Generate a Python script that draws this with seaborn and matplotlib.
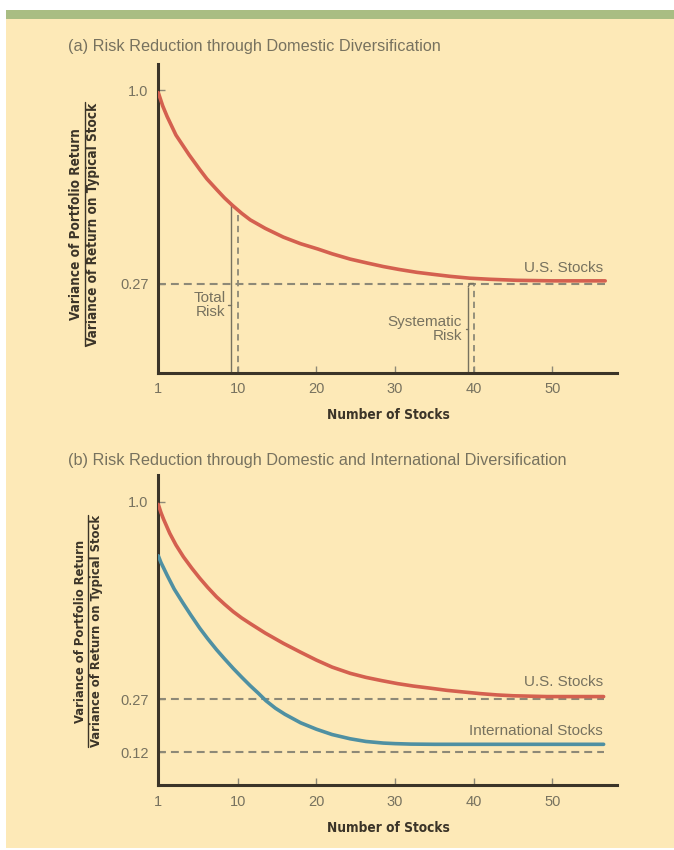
import numpy as np
import pandas as pd
import matplotlib
matplotlib.use('Agg')
import matplotlib.pyplot as plt
import seaborn as sns
from matplotlib.lines import Line2D
from matplotlib.patches import Rectangle

# --- data ---
# (a) domestic diversification
us_n_a = [1, 1.25, 1.5, 2, 2.5, 3, 3.8, 4.5, 5.7, 6.5, 7.6, 8.5, 9.4, 10.5, 11.6, 13.5,
          15.8, 18, 20.2, 22, 24.3, 26.5, 28.5, 30.5, 32.8, 35, 37, 39.5, 42, 45.5, 50, 56.7]
us_risk_a = [0.99, 0.965, 0.94, 0.90, 0.865, 0.83, 0.79, 0.755, 0.70, 0.665, 0.625, 0.593,
             0.565, 0.535, 0.51, 0.478, 0.445, 0.42, 0.40, 0.382, 0.362, 0.347, 0.334, 0.323,
             0.312, 0.304, 0.297, 0.29, 0.286, 0.282, 0.28, 0.28]

# (b) domestic and international diversification
us_n_b = [1, 1.3, 1.6, 2.3, 3, 3.85, 4.8, 5.7, 6.6, 7.6, 8.5, 9.5, 10.5, 11.6, 13.5, 15.8,
          18, 20, 22, 24.3, 26.3, 28.3, 30.3, 32.3, 34.5, 36.6, 38.7, 40.8, 43, 45, 49.3, 56.5]
us_risk_b = [0.99, 0.96, 0.935, 0.883, 0.84, 0.796, 0.754, 0.717, 0.683, 0.648, 0.621, 0.593,
             0.570, 0.549, 0.514, 0.476, 0.443, 0.414, 0.388, 0.365, 0.35, 0.338, 0.327, 0.318,
             0.31, 0.302, 0.296, 0.29, 0.285, 0.282, 0.279, 0.279]
intl_n_b = [1, 1.3, 1.6, 2, 2.8, 3.8, 4.7, 5.7, 6.6, 7.6, 8.5, 9.5, 10.5, 11.6, 12.6, 13.6,
            14.8, 16, 18, 20, 22, 24.3, 26.3, 28.5, 30, 32, 35, 40, 56.5]
intl_risk_b = [0.80, 0.775, 0.755, 0.728, 0.677, 0.625, 0.58, 0.532, 0.493, 0.4525, 0.419,
               0.383, 0.351, 0.319, 0.292, 0.265, 0.244, 0.227, 0.203, 0.185, 0.170, 0.158,
               0.1505, 0.146, 0.1444, 0.1431, 0.1425, 0.1425, 0.1425]

us_systematic = 0.27
intl_systematic = 0.12
x_ticks = [1, 10, 20, 30, 40, 50]
x_ticklabels = ['1', '10', '20', '30', '40', '50']

# --- styling ---
W, H = 674, 850
BG = '#fde9b7'
RED = '#d4604f'
BLUE = '#4f90a2'
AXIS = '#3b3428'
GREY = '#77725f'
DASH = '#8d8977'
sns.set_theme(style='ticks')
plt.rcParams['font.family'] = ['Liberation Sans', 'DejaVu Sans']
BOLD = dict(family='DejaVu Sans', fontweight='bold', fontstretch='condensed', color=AXIS)


def piecewise(data_knots, pix_knots):
    # piecewise-linear axis, the book figure is drawn schematically
    d = np.asarray(data_knots, float)
    p = np.asarray(pix_knots, float)

    def make(a, b):
        def f(v):
            v = np.asarray(v, float)
            lo = b[0] + (v - a[0]) * (b[1] - b[0]) / (a[1] - a[0])
            hi = b[-1] + (v - a[-1]) * (b[-1] - b[-2]) / (a[-1] - a[-2])
            return np.where(v < a[0], lo, np.where(v > a[-1], hi, np.interp(v, a, b)))
        return f
    return make(d, p), make(p, d)


def px_rect(left, top, right, bottom):
    return [left / W, 1 - bottom / H, (right - left) / W, (bottom - top) / H]


def fit(t, target, vertical=False):
    # scale font so the text spans the same pixels as in the book
    bb = t.get_window_extent(fig.canvas.get_renderer())
    size = bb.height if vertical else bb.width
    t.set_fontsize(t.get_fontsize() * target / size)
    return t.get_fontsize()


fig = plt.figure(figsize=(W / 100, H / 100), dpi=100, facecolor='white')
fig.add_artist(Rectangle((6 / W, 2 / H), 1, 830 / H, transform=fig.transFigure,
                         facecolor=BG, edgecolor='none', zorder=-10))
fig.add_artist(Rectangle((6 / W, 1 - 18.5 / H), 1, 8.5 / H, transform=fig.transFigure,
                         facecolor='#a9bd83', edgecolor='none', zorder=-10))

x_fwd, x_inv = piecewise([1, 10, 50], [158.3, 237.7, 552.5])

ax_a = fig.add_axes(px_rect(158.3, 63.5, 617, 372.7))
ax_b = fig.add_axes(px_rect(158.3, 474.7, 617, 785))
ya = piecewise([0, 0.27, 1.0], [-372.7, -283.5, -90])
yb = piecewise([0, 0.12, 0.27, 1.0], [-785, -752.3, -699, -501.7])

for ax, yfun, yticks in [(ax_a, ya, [0.27, 1.0]), (ax_b, yb, [0.12, 0.27, 1.0])]:
    ax.set_facecolor('none')
    ax.set_xscale('function', functions=(x_fwd, x_inv))
    ax.set_yscale('function', functions=yfun)
    ax.set_xlim(1, 58.2)
    ax.set_ylim(0, 1.1)
    sns.despine(ax=ax)
    for s in ['left', 'bottom']:
        ax.spines[s].set_color(AXIS)
        ax.spines[s].set_linewidth(2.2)
    ax.set_xticks(x_ticks)
    ax.set_xticklabels(x_ticklabels)
    ax.set_yticks(yticks)
    ax.set_yticklabels([('%.2f' % t) if t < 1 else '1.0' for t in yticks])
    ax.tick_params(axis='both', direction='in', length=5, width=1, color=DASH,
                   labelcolor=GREY, labelsize=10.5, pad=7)
    ax.set_xlabel('')
    ax.set_ylabel('')
    ax.minorticks_off()

dash = (0, (3.8, 2.4))

# panel (a)
ax_a.hlines(us_systematic, 1, us_n_a[-1], colors=DASH, lw=1.5, linestyles=[dash], zorder=1)
sns.lineplot(x=us_n_a, y=us_risk_a, ax=ax_a, color=RED, lw=2.6, estimator=None, zorder=3)

# total risk bracket at 10 stocks
top10 = np.interp(10, us_n_a, us_risk_a)
top_b = np.interp(9.2, us_n_a, us_risk_a)
ax_a.vlines(10, 0, top10, colors=DASH, lw=1.3, linestyles=[(0, (3.5, 2.5))], zorder=2)
ax_a.vlines(9.2, 0, top_b, colors=GREY, lw=1, zorder=2)
ax_a.plot([8.95, 9.2], [0.205, 0.205], color=GREY, lw=1)
ax_a.text(8.6, 0.205, 'Total\nRisk', ha='right', va='center', fontsize=11,
          color=GREY, linespacing=1.0)

# systematic risk bracket at 40 stocks
ax_a.vlines(40, 0, us_systematic, colors=DASH, lw=1.3, linestyles=[(0, (3.5, 2.5))], zorder=2)
ax_a.vlines(39.3, 0, us_systematic - 0.01, colors=GREY, lw=1, zorder=2)
ax_a.plot([39.3, 39.5, 40], [us_systematic - 0.01, us_systematic, us_systematic],
          color=GREY, lw=1)
ax_a.plot([39.05, 39.3], [0.131, 0.131], color=GREY, lw=1)
ax_a.text(38.5, 0.131, 'Systematic\nRisk', ha='right', va='center', fontsize=11,
          color=GREY, linespacing=1.0)
ax_a.text(56.4, 0.328, 'U.S. Stocks', ha='right', va='center', fontsize=11, color=GREY)

# panel (b)
ax_b.hlines([us_systematic, intl_systematic], 1, us_n_b[-1], colors=DASH, lw=1.5,
            linestyles=[dash], zorder=1)
sns.lineplot(x=us_n_b, y=us_risk_b, ax=ax_b, color=RED, lw=2.6, estimator=None, zorder=3)
sns.lineplot(x=intl_n_b, y=intl_risk_b, ax=ax_b, color=BLUE, lw=2.6, estimator=None, zorder=3)
ax_b.text(56.4, 0.334, 'U.S. Stocks', ha='right', va='center', fontsize=11, color=GREY)
ax_b.text(56.4, 0.181, 'International Stocks', ha='right', va='center', fontsize=11,
          color=GREY)

# titles and axis labels in figure pixels
t_a = fig.text(68 / W, 1 - 47 / H, '(a) Risk Reduction through Domestic Diversification',
               fontsize=10, color=GREY, va='center')
t_b = fig.text(68 / W, 1 - 461 / H,
               '(b) Risk Reduction through Domestic and International Diversification',
               fontsize=10, color=GREY, va='center')
t_b.set_fontsize(fit(t_a, 372))

xl = [fig.text(388 / W, 1 - yc / H, 'Number of Stocks', fontsize=9, ha='center',
               va='center', **BOLD) for yc in [415, 828]]
xl[1].set_fontsize(fit(xl[0], 124))

for xs, yc, span in [((76, 85, 93), 224, 245), ((80, 88, 96.5), 631, 235)]:
    t1 = fig.text(xs[0] / W, 1 - yc / H, 'Variance of Portfolio Return', rotation=90,
                  fontsize=9, ha='center', va='center', **BOLD)
    t2 = fig.text(xs[2] / W, 1 - yc / H, 'Variance of Return on Typical Stock', rotation=90,
                  fontsize=9, ha='center', va='center', **BOLD)
    t1.set_fontsize(fit(t2, span, vertical=True))
    bb = t2.get_window_extent(fig.canvas.get_renderer())
    fig.add_artist(Line2D([xs[1] / W] * 2, [bb.y0 / H, bb.y1 / H], transform=fig.transFigure,
                          color=AXIS, lw=1))

fig.savefig('out.png', dpi=100, facecolor='white')
